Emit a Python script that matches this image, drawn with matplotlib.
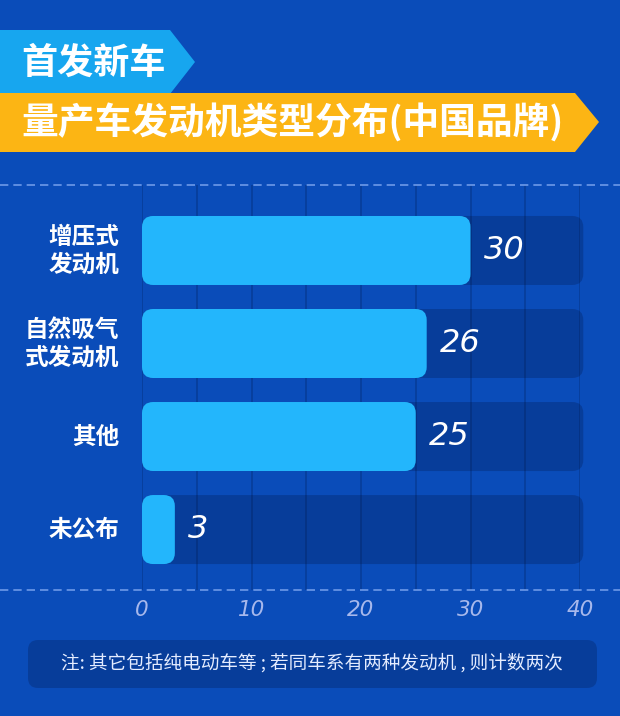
import matplotlib
matplotlib.use('Agg')
from matplotlib import pyplot
from matplotlib.patches import FancyBboxPatch, Polygon
from matplotlib.lines import Line2D

pyplot.rcParams['font.family'] = ['Noto Sans CJK SC', 'DejaVu Sans']

# data
categories = ['增压式\n发动机', '自然吸气\n式发动机', '其他', '未公布']
values = [30, 26, 25, 3]
x_ticks = [0, 10, 20, 30, 40]
track_max = 40.3

title_1 = '首发新车'
title_2 = '量产车发动机类型分布(中国品牌)'
note = '注: 其它包括纯电动车等 ; 若同车系有两种发动机 , 则计数两次'

bg = '#0a4cb9'
bar_color = '#23b6fc'
W, H = 620, 716


def fx(px):
  return px / W


def fy(py):
  return 1.0 - py / H


fig = pyplot.figure(figsize=(W / 100, H / 100), dpi=100, facecolor=bg)

# title banners
fig.add_artist(Polygon([(fx(0), fy(30)), (fx(170), fy(30)), (fx(195), fy(62)),
                        (fx(170), fy(94)), (fx(0), fy(94))],
                       closed=True, facecolor='#17a6ef', edgecolor='none',
                       transform=fig.transFigure))
fig.add_artist(Polygon([(fx(0), fy(93)), (fx(575), fy(93)), (fx(599), fy(122)),
                        (fx(575), fy(152)), (fx(0), fy(152))],
                       closed=True, facecolor='#fcb514', edgecolor='none',
                       transform=fig.transFigure))
fig.text(fx(21), fy(63), title_1, color='white', fontsize=26, fontweight='bold',
         ha='left', va='center')
fig.text(fx(21), fy(123), title_2, color='white', fontsize=26.5, fontweight='bold',
         ha='left', va='center')

# dashed separators
for py in (185, 590):
  fig.add_artist(Line2D([0, 1], [fy(py), fy(py)], transform=fig.transFigure,
                        color='#6d9ae8', linewidth=1.2, linestyle=(0, (5, 3))))

# main axes: x=0 at 142px, x=40 at 580px, y from 185px to 590px
ax = fig.add_axes([fx(142), fy(590), fx(580) - fx(142), (590 - 185) / H])
ax.set_facecolor('none')
ax.set_xlim(0, 40)
ax.set_ylim(3.65, -0.704)
for s in ax.spines.values():
  s.set_visible(False)
ax.set_yticks([])
ax.set_xticks(x_ticks)
ax.set_xticklabels([str(t) for t in x_ticks], color='#a7b8ec', fontsize=15.5,
                   style='italic', family='DejaVu Sans')
ax.tick_params(axis='x', length=0, pad=7)
ax.set_xticks([5, 15, 25, 35], minor=True)
ax.tick_params(axis='x', which='minor', length=0)
ax.grid(which='both', axis='x', color='#073e9c', linewidth=1.3)
ax.set_axisbelow(True)

ypos = list(range(len(categories)))
bar_h = 69 / 93.0

tracks = ax.barh(ypos, [track_max] * len(values), height=bar_h)
bars = ax.barh(ypos, values, height=bar_h)

# make the bars rounded
fig.canvas.draw()
px_x = ax.transData.transform((1, 0))[0] - ax.transData.transform((0, 0))[0]
px_y = abs(ax.transData.transform((0, 1))[1] - ax.transData.transform((0, 0))[1])
radius = 11 / px_x
aspect = px_x / px_y
styles = ((tracks, '#000a30', 0.22, 2), (bars, bar_color, 1.0, 3))
for group, color, alpha, z in styles:
  for rect in group:
    x0, y0 = rect.get_x(), rect.get_y()
    w, h = rect.get_width(), rect.get_height()
    rect.set_visible(False)
    r = min(radius, w / 2.0)
    ax.add_patch(FancyBboxPatch((x0, y0), w, h,
                                boxstyle='round,pad=0,rounding_size={}'.format(r),
                                mutation_aspect=aspect, alpha=alpha,
                                facecolor=color, edgecolor='none', zorder=z,
                                clip_on=False))

for y, label, v in zip(ypos, categories, values):
  ax.text(-2.1, y, label, ha='right', va='center', color='white',
          fontsize=17, fontweight='bold', linespacing=1.2)
  ax.text(v + 1.2, y, str(v), ha='left', va='center', color='white',
          fontsize=23, style='italic', family='DejaVu Sans', zorder=5)

# footnote box
fig.add_artist(FancyBboxPatch((fx(28), fy(688)), fx(597) - fx(28), (688 - 640) / H,
                              boxstyle='round,pad=0,rounding_size=0.016',
                              mutation_aspect=W / H, facecolor='#000a30',
                              alpha=0.22, edgecolor='none',
                              transform=fig.transFigure))
fig.text(fx(312), fy(663), note, color='#e4ecff', fontsize=13.4,
         ha='center', va='center')

pyplot.savefig('out.png', dpi=100, facecolor=bg)
